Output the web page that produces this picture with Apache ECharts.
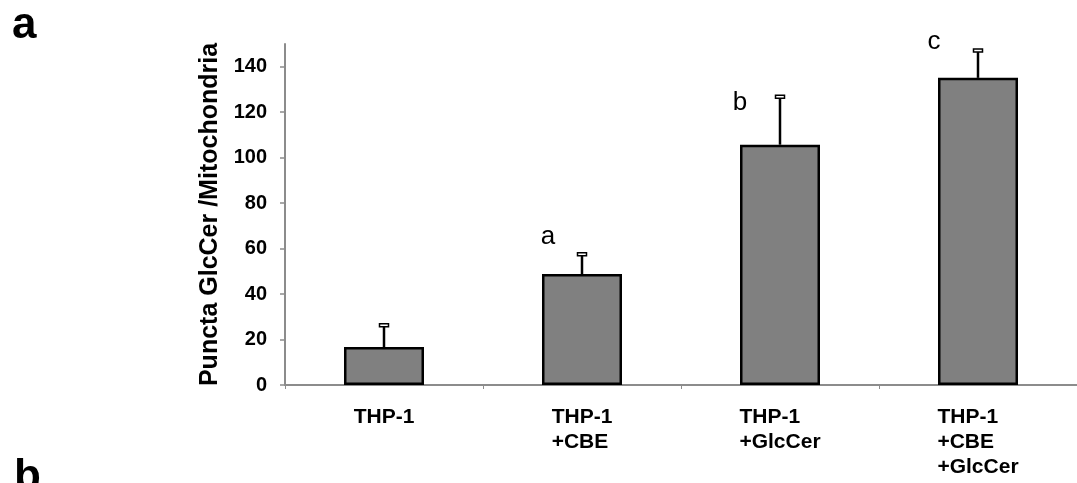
<!DOCTYPE html>
<html>
<head>
<meta charset="utf-8">
<script src="https://cdn.jsdelivr.net/npm/echarts@6/dist/echarts.min.js"></script>
<style>
html,body{margin:0;padding:0;background:#fff;}
#chart{width:1077px;height:483px;}
</style>
</head>
<body>
<div id="chart"></div>
<script>
var categories = ['THP-1', 'THP-1\n+CBE', 'THP-1\n+GlcCer', 'THP-1\n+CBE\n+GlcCer'];
var meanValues = [16.7, 48.8, 105.7, 135.1];
var errorValues = [9.6, 8.7, 21.1, 12.0];
var sigLetters = ['', 'a', 'b', 'c'];
var letterValues = [0, 65, 124, 151];
var yTicks = [0, 20, 40, 60, 80, 100, 120, 140];

var FONT = '"Liberation Sans", Arial, sans-serif';
var chart = echarts.init(document.getElementById('chart'), null, {renderer: 'canvas'});

var errData = meanValues.map(function (v, i) { return [i, v, v + errorValues[i]]; });
var letterData = sigLetters.map(function (s, i) { return [i, letterValues[i], s]; });

chart.setOption({
  animation: false,
  backgroundColor: '#ffffff',
  grid: {left: 285, top: 44, width: 798, height: 341, containLabel: false},
  xAxis: {
    type: 'category',
    data: categories,
    boundaryGap: true,
    axisLine: {lineStyle: {color: '#8c8c8c', width: 2}},
    axisTick: {show: true, alignWithLabel: false, length: 4, lineStyle: {color: '#8c8c8c', width: 1}},
    axisLabel: {
      margin: 20,
      formatter: function (v) {
        return v.split('\n').map(function (l) { return '{l|' + l + '}'; }).join('\n');
      },
      rich: {
        l: {align: 'left', fontSize: 21, fontWeight: 'bold', lineHeight: 25, color: '#000', fontFamily: FONT}
      }
    },
    splitLine: {show: false}
  },
  yAxis: {
    type: 'value',
    min: 0,
    max: 150,
    interval: 20,
    name: 'Puncta GlcCer /Mitochondria',
    nameLocation: 'middle',
    nameGap: 60,
    nameTextStyle: {fontSize: 25, fontWeight: 'bold', color: '#000', fontFamily: FONT},
    axisLine: {show: true, lineStyle: {color: '#8c8c8c', width: 2}},
    axisTick: {show: true, inside: false, length: 5, lineStyle: {color: '#8c8c8c', width: 1.5}},
    axisLabel: {
      margin: 18, fontSize: 20, fontWeight: 'bold', color: '#000', fontFamily: FONT,
      showMaxLabel: false,
      formatter: function (v) { return yTicks.indexOf(v) >= 0 ? String(v) : ''; }
    },
    splitLine: {show: false}
  },
  series: [
    {
      type: 'bar',
      data: meanValues,
      barWidth: 80,
      itemStyle: {color: '#808080', borderColor: '#000', borderWidth: 2.5},
      z: 2
    },
    {
      type: 'custom',
      data: errData,
      z: 3,
      renderItem: function (params, api) {
        var x = api.coord([api.value(0), api.value(1)]);
        var top = api.coord([api.value(0), api.value(2)]);
        return {
          type: 'group',
          children: [
            {type: 'line', shape: {x1: x[0], y1: x[1], x2: x[0], y2: top[1]},
             style: {stroke: '#000', lineWidth: 2.5}},
            {type: 'rect', shape: {x: x[0] - 4.5, y: top[1] - 1.5, width: 9, height: 3},
             style: {fill: '#fff', stroke: '#000', lineWidth: 1.5}}
          ]
        };
      }
    },
    {
      type: 'custom',
      data: letterData,
      z: 4,
      renderItem: function (params, api) {
        var p = api.coord([api.value(0), api.value(1)]);
        var offsets = [0, -34, -40, -44];
        return {
          type: 'text',
          x: p[0] + offsets[params.dataIndex],
          y: p[1],
          style: {text: letterData[params.dataIndex][2], fill: '#000', fontSize: 26,
                  fontFamily: FONT, align: 'center', verticalAlign: 'middle'}
        };
      }
    }
  ],
  graphic: [
    {type: 'text', left: 12, top: 4, style: {text: 'a', fontSize: 44, fontWeight: 'bold', fill: '#000', fontFamily: FONT}},
    {type: 'text', left: 14, top: 456, style: {text: 'b', fontSize: 44, fontWeight: 'bold', fill: '#000', fontFamily: FONT}}
  ]
});
</script>
</body>
</html>
